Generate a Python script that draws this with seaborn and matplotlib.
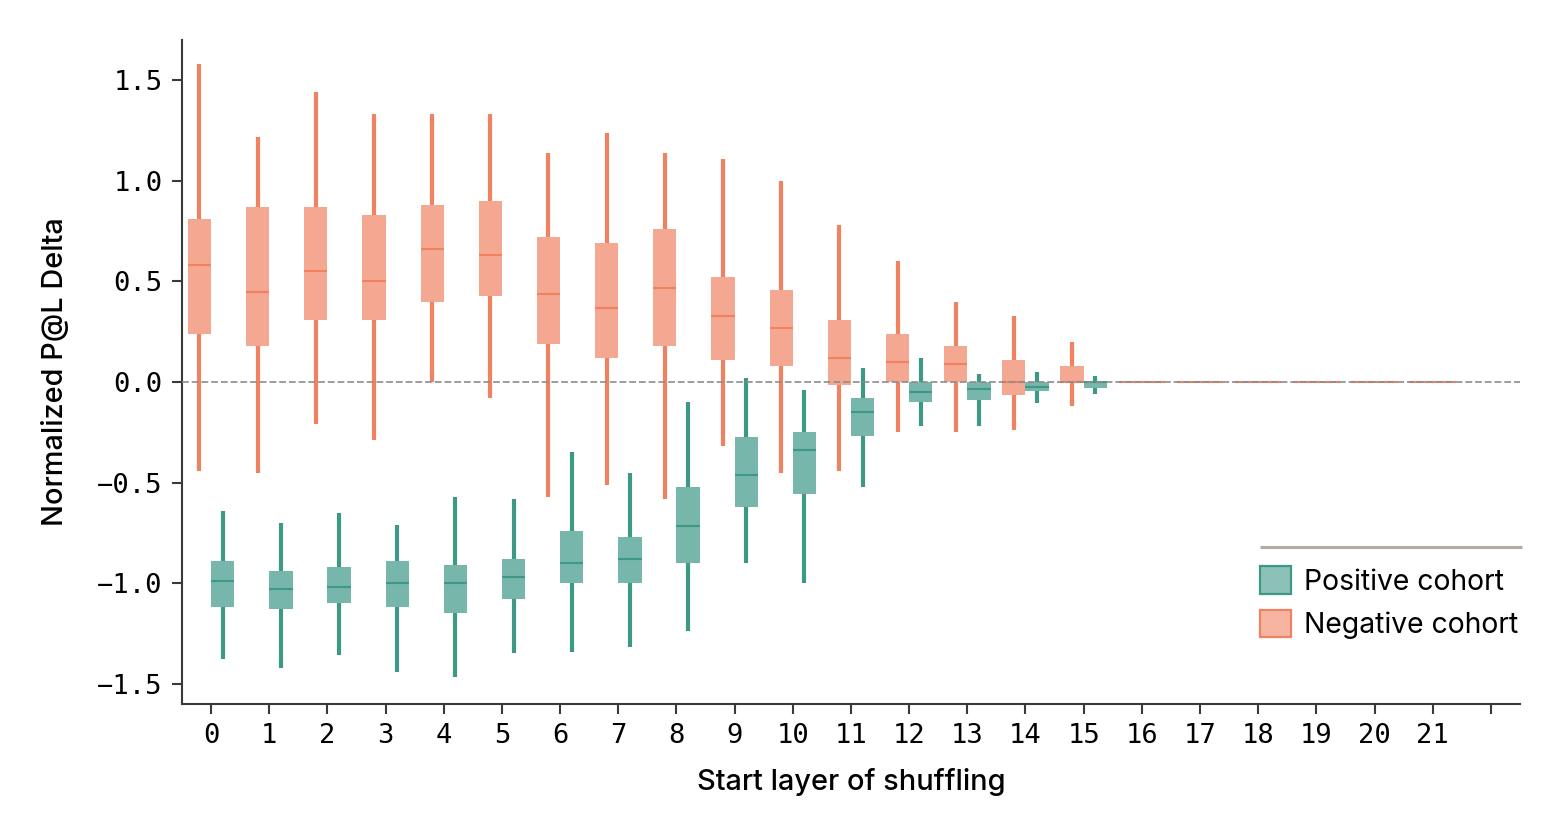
import numpy as np
import pandas as pd
import matplotlib.pyplot as plt
import seaborn as sns
from matplotlib.patches import Patch

# Box statistics per start layer
layers = list(range(22))
tick_labels = [str(i) for i in range(22)] + ['']

neg_low = [-0.44, -0.45, -0.21, -0.29, 0.00, -0.08, -0.57, -0.51, -0.58, -0.32, -0.45, -0.44, -0.25, -0.25, -0.24, -0.12]
neg_q1 = [0.24, 0.18, 0.31, 0.31, 0.40, 0.43, 0.19, 0.12, 0.18, 0.11, 0.08, -0.015, 0.0, 0.0, -0.065, 0.0]
neg_med = [0.58, 0.45, 0.55, 0.50, 0.66, 0.63, 0.44, 0.37, 0.47, 0.33, 0.27, 0.12, 0.10, 0.09, 0.0, 0.0]
neg_q3 = [0.81, 0.87, 0.87, 0.83, 0.88, 0.90, 0.72, 0.69, 0.76, 0.52, 0.46, 0.31, 0.24, 0.18, 0.11, 0.08]
neg_high = [1.58, 1.22, 1.44, 1.33, 1.33, 1.33, 1.14, 1.24, 1.14, 1.11, 1.00, 0.78, 0.60, 0.40, 0.33, 0.20]

pos_low = [-1.375, -1.42, -1.355, -1.44, -1.465, -1.345, -1.34, -1.315, -1.235, -0.90, -1.00, -0.52, -0.22, -0.22, -0.105, -0.06]
pos_q1 = [-1.12, -1.13, -1.10, -1.12, -1.15, -1.08, -1.00, -1.00, -0.90, -0.62, -0.555, -0.27, -0.10, -0.09, -0.045, -0.03]
pos_med = [-0.99, -1.03, -1.02, -1.00, -1.00, -0.97, -0.90, -0.88, -0.715, -0.46, -0.34, -0.15, -0.05, -0.035, -0.025, 0.0]
pos_q3 = [-0.89, -0.94, -0.92, -0.89, -0.91, -0.88, -0.74, -0.77, -0.52, -0.275, -0.25, -0.08, 0.0, 0.0, 0.0, 0.0]
pos_high = [-0.64, -0.70, -0.65, -0.71, -0.57, -0.58, -0.35, -0.45, -0.10, 0.02, -0.04, 0.07, 0.12, 0.04, 0.05, 0.03]

# layers 16-21: negative cohort collapses to zero
flat_layers = [16, 17, 18, 19, 20, 21]
flat_value = 0.0

# five values per box -> quartiles land exactly on the read-off stats
rows = []
for cohort, stats in [('Negative', (neg_low, neg_q1, neg_med, neg_q3, neg_high)),
                      ('Positive', (pos_low, pos_q1, pos_med, pos_q3, pos_high))]:
    for i, vals in enumerate(zip(*stats)):
        for v in vals:
            rows.append({'layer': layers[i], 'cohort': cohort, 'value': v})
df = pd.DataFrame(rows)
flat_df = pd.DataFrame([{'layer': l, 'cohort': 'Negative', 'value': flat_value}
                        for l in flat_layers for _ in range(5)])

colors = {'Positive': '#3D9886', 'Negative': '#F08262'}
fills = {'Positive': '#77B6AA', 'Negative': '#F4A791'}
legend_fills = {'Positive': '#8BC1B6', 'Negative': '#F6B4A1'}

sns.set_style('ticks')
plt.rcParams['font.family'] = ['Inter', 'DejaVu Sans']

fig, ax = plt.subplots(figsize=(15.61, 8.39), dpi=100)
fig.subplots_adjust(left=0.1166, right=0.9737, top=0.9523, bottom=0.1609)

common = dict(x='layer', y='value', order=layers, whis=(0, 100), width=0.8,
              showcaps=False, saturation=1, showfliers=False, legend=False, ax=ax)

for cohort in ['Negative', 'Positive']:
    sns.boxplot(data=df[df['cohort'] == cohort], hue='cohort',
                hue_order=['Negative', 'Positive'], palette=fills, gap=0, dodge=True,
                boxprops=dict(edgecolor=fills[cohort], linewidth=0),
                whiskerprops=dict(color=colors[cohort], linewidth=3.0),
                medianprops=dict(color=colors[cohort], linewidth=1.5),
                **common)

sns.boxplot(data=flat_df, color=fills['Negative'],
            boxprops=dict(edgecolor=fills['Negative'], linewidth=0),
            whiskerprops=dict(color=colors['Negative'], linewidth=3.0),
            medianprops=dict(color=colors['Negative'], linewidth=1.5),
            **common)

ax.axhline(0, color='#8C8C8C', alpha=0.85, lw=1.4, ls=(0, (3.5, 1.5)), zorder=5)

ax.set_xlim(-0.5, 22.5)
ax.set_ylim(-1.6, 1.7)
ax.set_xticks(range(23))
ax.set_xticklabels(tick_labels)
ax.set_yticks([-1.5, -1.0, -0.5, 0.0, 0.5, 1.0, 1.5])

for lab in ax.get_xticklabels() + ax.get_yticklabels():
    lab.set_family('DejaVu Sans Mono')
    lab.set_fontsize(19.5)
ax.tick_params(axis='both', length=7, width=1.5, color='#3A3A3A', pad=7, labelcolor='#000000')

ax.set_xlabel('Start layer of shuffling', fontsize=20.8, fontweight='medium',
              color='#000000', labelpad=13)
ax.set_ylabel('Normalized P@L Delta', fontsize=20.8, fontweight='medium',
              color='#000000', labelpad=20)

sns.despine(ax=ax)
for s in ['left', 'bottom']:
    ax.spines[s].set_linewidth(1.5)
    ax.spines[s].set_color('#3A3A3A')

handles = [Patch(facecolor=legend_fills[c], edgecolor=colors[c], linewidth=1.6, label=f'{c} cohort')
           for c in ['Positive', 'Negative']]
leg = ax.legend(handles=handles, loc='lower left', bbox_to_anchor=(0.8057, 0.098), frameon=False,
                prop={'size': 20.4}, borderpad=0, borderaxespad=0, handlelength=1.1,
                handleheight=1.1, handletextpad=0.45, labelspacing=0.5)
for t in leg.get_texts():
    t.set_color('#000000')
ax.plot([0.806, 1.0015], [0.236, 0.236], transform=ax.transAxes, color='#B3ABA3',
        lw=2.2, clip_on=False, solid_capstyle='butt')

plt.savefig('out.png', dpi=100)
